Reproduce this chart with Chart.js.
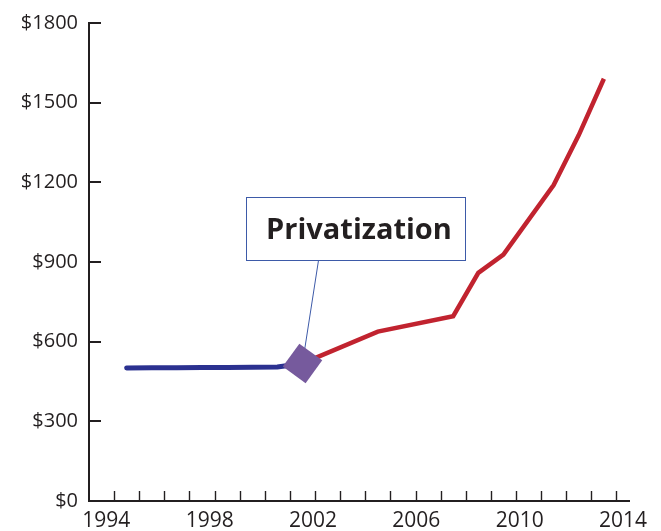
<!DOCTYPE html>
<html>
<head>
<meta charset="utf-8">
<title>Privatization chart</title>
<script src="https://cdn.jsdelivr.net/npm/chart.js@4/dist/chart.umd.min.js"></script>
<style>
    html, body { margin: 0; padding: 0; background: #ffffff; }
    #wrap { width: 661px; height: 531px; }
</style>
</head>
<body>
<div id="wrap"><canvas id="chart" width="661" height="531"></canvas></div>
<script>
// Values (years are mid-year points)
const publicYears = [1994, 1995, 1996, 1997, 1998, 1999, 2000, 2001];
const publicValues = [501, 502, 502, 503, 503, 504, 505, 518];

const privateYears = [2001, 2004, 2007, 2008, 2009, 2011, 2012, 2013];
const privateValues = [518, 638, 696, 859, 928, 1190, 1378, 1590];

const eventYear = [2001];
const eventValue = [518];
const eventLabel = 'Privatization';

const xTickLabels = [1994, 1998, 2002, 2006, 2010, 2014];
const yTickValues = [0, 300, 600, 900, 1200, 1500, 1800];

const INK = '#231f20';
const FONT = '"Open Sans", "DejaVu Sans", sans-serif';

function toPoints(xs, ys) {
    return xs.map((x, i) => ({ x: x, y: ys[i] }));
}

/**
 * Tick marks point inward, and the callout box sits above the diamond
 */
const decorPlugin = {
    id: 'decor',
    beforeDatasetsDraw(chart) {
        const ctx = chart.ctx;
        const area = chart.chartArea;
        const xd = chart.scales.xd;
        const y = chart.scales.y;

        ctx.save();
        ctx.strokeStyle = INK;

        // yearly minor ticks on the x axis
        ctx.lineWidth = 1.4;
        for (let v = xd.min + 1; v < xd.max; v++) {
            const px = Math.round(xd.getPixelForValue(v)) + 0.5;
            ctx.beginPath();
            ctx.moveTo(px, area.bottom);
            ctx.lineTo(px, area.bottom - 10);
            ctx.stroke();
        }

        // y ticks
        ctx.lineWidth = 2;
        yTickValues.forEach(v => {
            const py = Math.round(y.getPixelForValue(v));
            ctx.beginPath();
            ctx.moveTo(area.left, py);
            ctx.lineTo(area.left + 12, py);
            ctx.stroke();
        });

        // callout
        const ax = xd.getPixelForValue(eventYear[0]);
        const ay = y.getPixelForValue(eventValue[0]);
        const boxL = ax - 56, boxT = ay - 166, boxW = 219, boxH = 63;

        ctx.strokeStyle = '#3d5aa8';
        ctx.lineWidth = 1;
        ctx.beginPath();
        ctx.moveTo(ax + 16, boxT + boxH);
        ctx.lineTo(ax, ay);
        ctx.stroke();

        ctx.fillStyle = '#ffffff';
        ctx.fillRect(boxL, boxT, boxW, boxH);
        ctx.strokeRect(Math.round(boxL) + 0.5, Math.round(boxT) + 0.5, boxW, boxH);

        ctx.fillStyle = INK;
        ctx.font = 'bold 29px ' + FONT;
        ctx.textAlign = 'center';
        ctx.textBaseline = 'alphabetic';
        ctx.fillText(eventLabel, boxL + boxW / 2 + 3, boxT + 42);
        ctx.restore();
    }
};

const chart = new Chart(document.getElementById('chart'), {
    type: 'line',
    data: {
        datasets: [
            {
                label: eventLabel,
                data: toPoints(eventYear, eventValue),
                xAxisID: 'xd',
                showLine: false,
                pointStyle: 'rect',
                rotation: 36,
                pointRadius: 20,
                pointBackgroundColor: '#765a9d',
                pointBorderWidth: 0
            },
            {
                label: 'Private',
                data: toPoints(privateYears, privateValues),
                xAxisID: 'xd',
                borderColor: '#c1232f',
                borderWidth: 4.5,
                pointRadius: 0,
                tension: 0
            },
            {
                label: 'Public',
                data: toPoints(publicYears, publicValues),
                xAxisID: 'xd',
                borderColor: '#2b3190',
                borderWidth: 5,
                borderCapStyle: 'round',
                pointRadius: 0,
                tension: 0
            }
        ]
    },
    options: {
        responsive: false,
        animation: false,
        layout: { padding: { top: 21, right: 32, bottom: 0, left: 0 } },
        plugins: {
            legend: { display: false },
            tooltip: { enabled: false }
        },
        scales: {
            xd: {
                type: 'linear',
                display: false,
                min: 1992.5,
                max: 2014
            },
            x: {
                type: 'linear',
                position: 'bottom',
                min: 1993.33,
                max: 2014.23,
                afterBuildTicks: scale => {
                    scale.ticks = xTickLabels.map(v => ({ value: v }));
                },
                afterFit: scale => { scale.height = 30; },
                grid: { display: false, drawTicks: false },
                border: { display: true, color: INK, width: 2 },
                ticks: {
                    padding: 7,
                    color: INK,
                    font: { family: FONT, size: 21 },
                    maxRotation: 0,
                    callback: v => String(v)
                }
            },
            y: {
                min: 0,
                max: 1800,
                afterBuildTicks: scale => {
                    scale.ticks = yTickValues.map(v => ({ value: v }));
                },
                afterFit: scale => { scale.width = 89; },
                grid: { display: false, drawTicks: false },
                border: { display: true, color: INK, width: 2 },
                ticks: {
                    padding: 11,
                    color: INK,
                    font: { family: FONT, size: 20 },
                    callback: v => '$' + v
                }
            }
        }
    },
    plugins: [decorPlugin]
});
</script>
</body>
</html>
